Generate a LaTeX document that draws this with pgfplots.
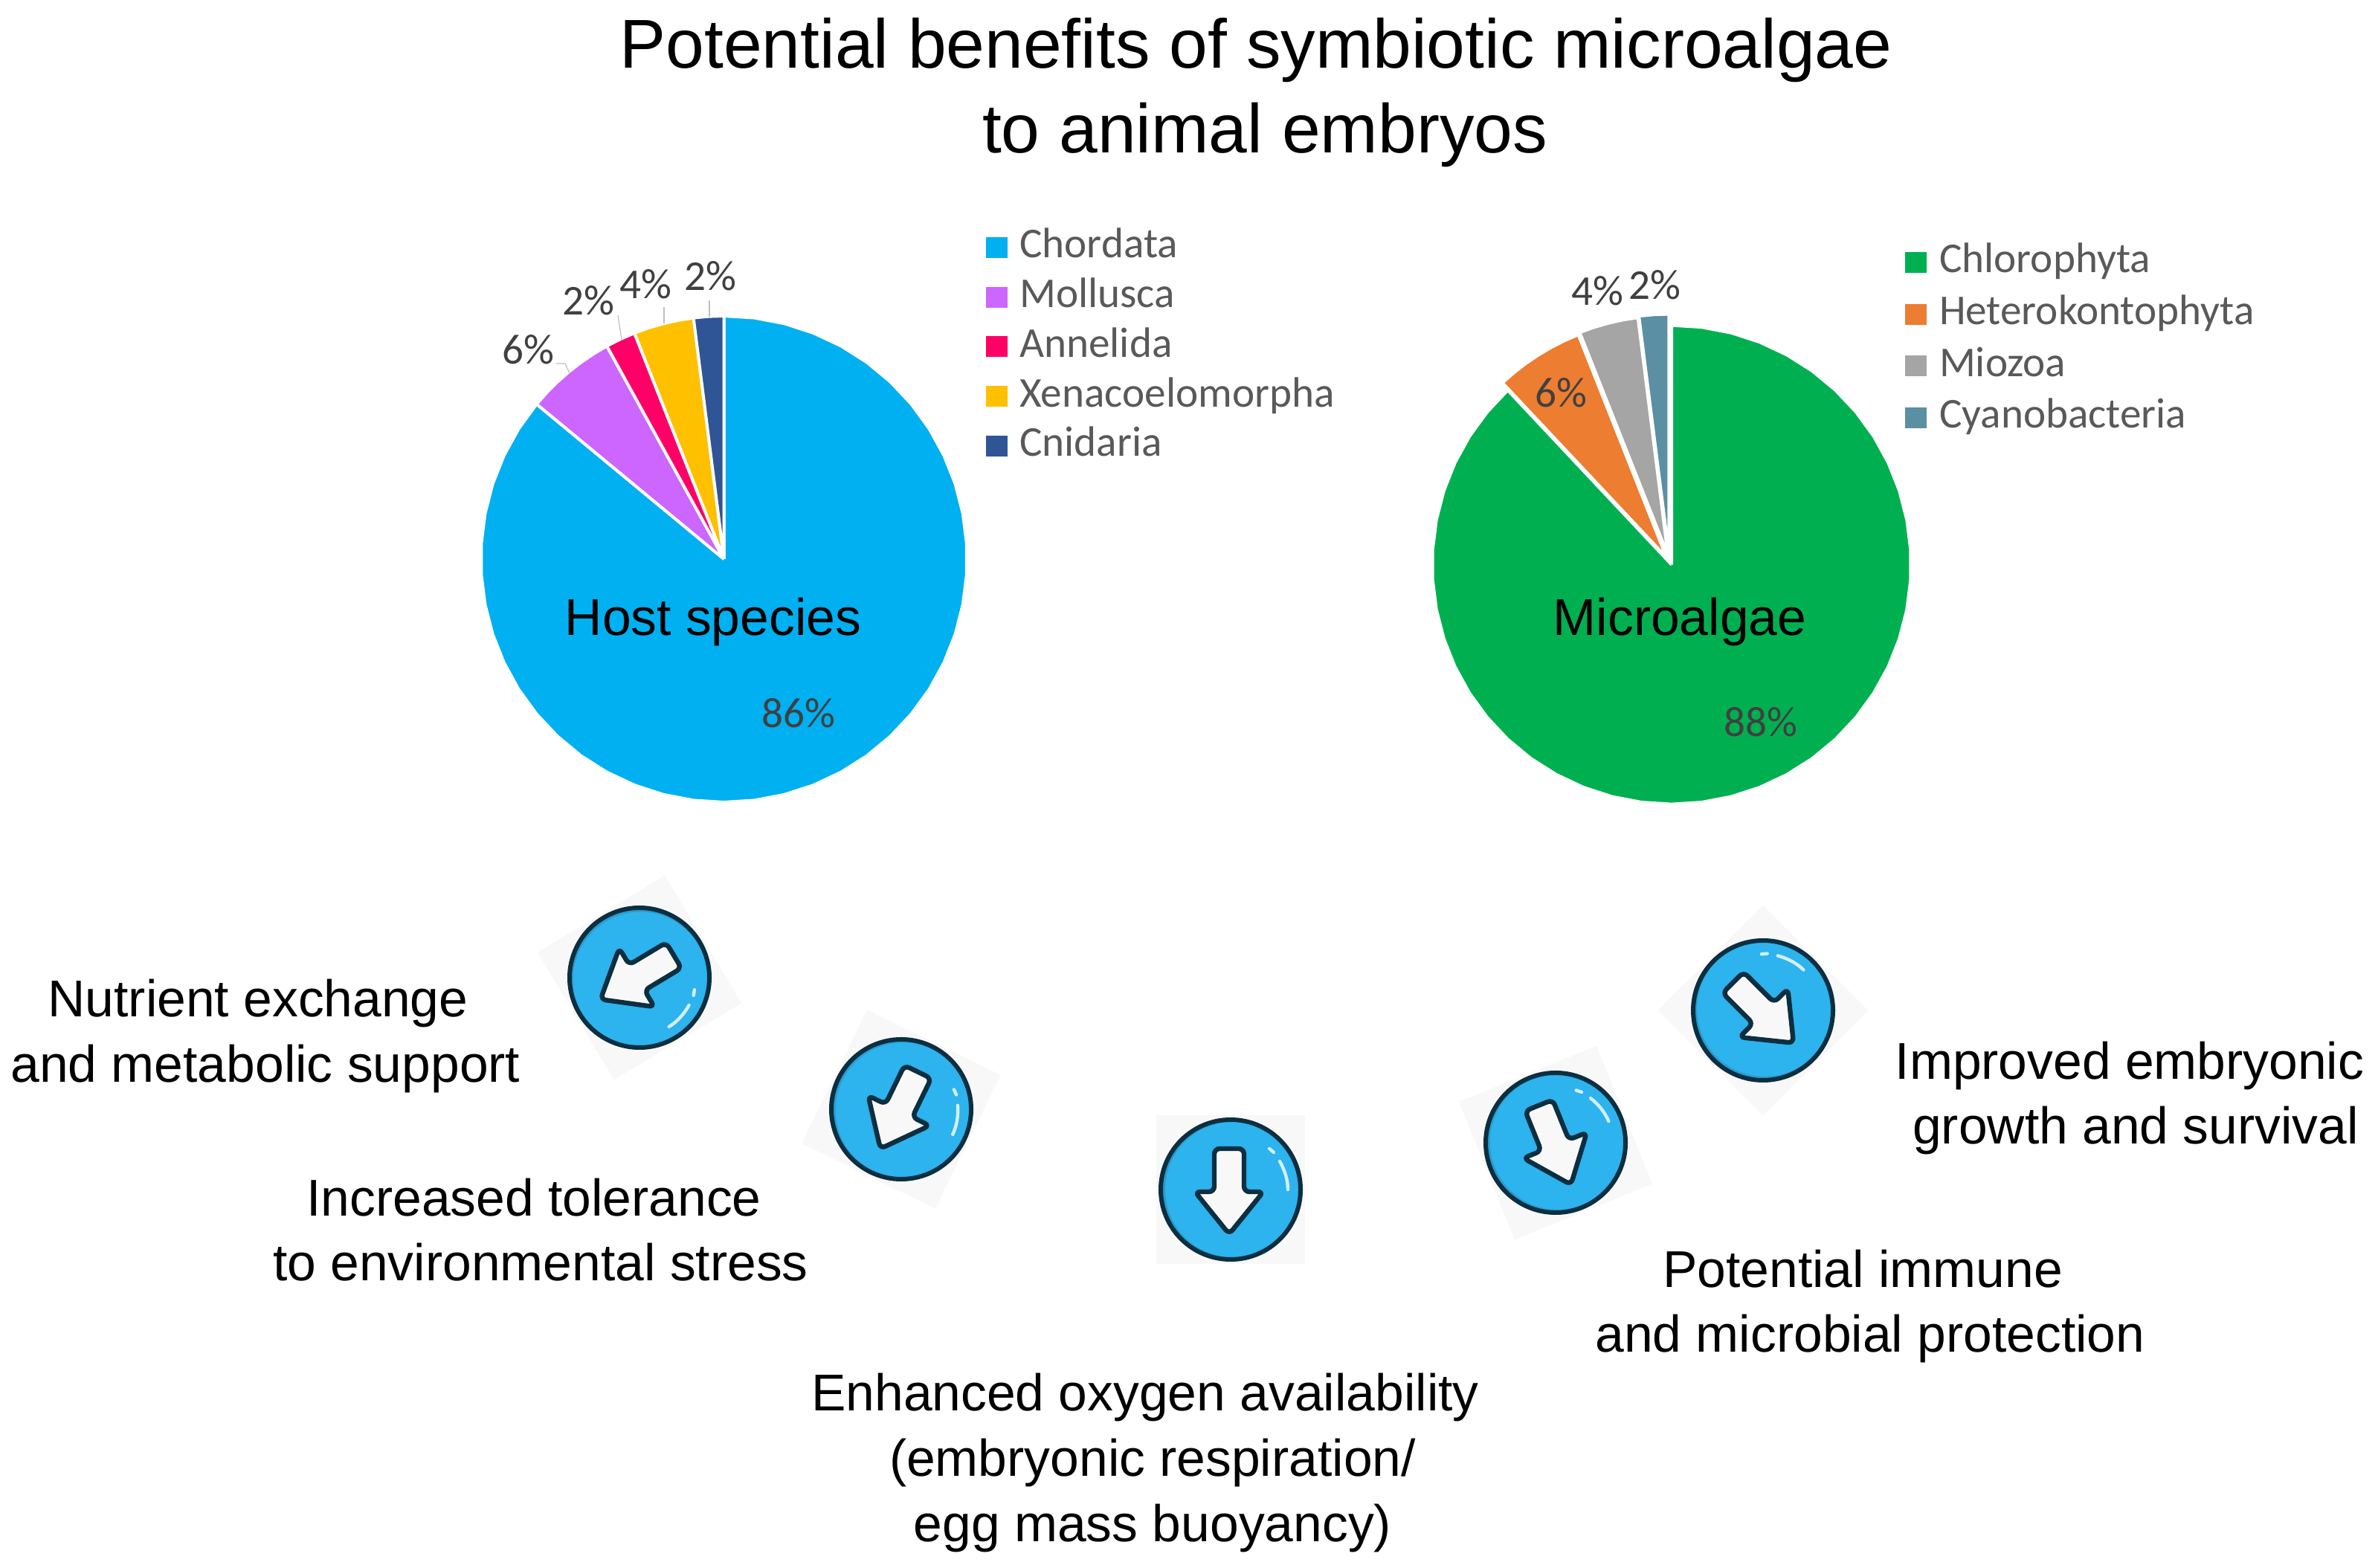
\documentclass[border=0pt]{standalone}
\usepackage{fontspec}
\usepackage{pgfplots}
\usepackage{pgfplotstable}
\pgfplotsset{compat=1.18}
\usepgfplotslibrary{polar}
\setmainfont{Liberation Sans}
\newfontfamily\carlito{Carlito}

% slices: p = cumulative percent clockwise from 12 o'clock, r = radius
\pgfplotstableread[row sep=\\]{p r\\0 0\\0 1\\2 1\\4 1\\6 1\\8 1\\10 1\\12 1\\14 1\\16 1\\18 1\\20 1\\22 1\\24 1\\26 1\\28 1\\30 1\\32 1\\34 1\\36 1\\38 1\\40 1\\42 1\\44 1\\46 1\\48 1\\50 1\\52 1\\54 1\\56 1\\58 1\\60 1\\62 1\\64 1\\66 1\\68 1\\70 1\\72 1\\74 1\\76 1\\78 1\\80 1\\82 1\\84 1\\86 1\\86 0\\}\chordata
\pgfplotstableread[row sep=\\]{p r\\86 0\\86 1\\87 1\\88 1\\89 1\\90 1\\91 1\\92 1\\92 0\\}\mollusca
\pgfplotstableread[row sep=\\]{p r\\92 0\\92 1\\93 1\\94 1\\94 0\\}\annelida
\pgfplotstableread[row sep=\\]{p r\\94 0\\94 1\\95 1\\96 1\\97 1\\98 1\\98 0\\}\xenaco
\pgfplotstableread[row sep=\\]{p r\\98 0\\98 1\\99 1\\100 1\\100 0\\}\cnidaria

\pgfplotstableread[row sep=\\]{p r\\0 0\\0 1\\2 1\\4 1\\6 1\\8 1\\10 1\\12 1\\14 1\\16 1\\18 1\\20 1\\22 1\\24 1\\26 1\\28 1\\30 1\\32 1\\34 1\\36 1\\38 1\\40 1\\42 1\\44 1\\46 1\\48 1\\50 1\\52 1\\54 1\\56 1\\58 1\\60 1\\62 1\\64 1\\66 1\\68 1\\70 1\\72 1\\74 1\\76 1\\78 1\\80 1\\82 1\\84 1\\86 1\\88 1\\88 0\\}\chloro
\pgfplotstableread[row sep=\\]{p r\\88 0\\88 1\\89 1\\90 1\\91 1\\92 1\\93 1\\94 1\\94 0\\}\hetero
\pgfplotstableread[row sep=\\]{p r\\94 0\\94 1\\95 1\\96 1\\97 1\\98 1\\98 0\\}\miozoa
\pgfplotstableread[row sep=\\]{p r\\98 0\\98 1\\99 1\\100 1\\100 0\\}\cyano

\definecolor{cChor}{HTML}{00B0F0}
\definecolor{cMoll}{HTML}{CC66FF}
\definecolor{cAnne}{HTML}{FF0066}
\definecolor{cXena}{HTML}{FFC000}
\definecolor{cCnid}{HTML}{2F5597}
\definecolor{cChlo}{HTML}{00B050}
\definecolor{cHete}{HTML}{ED7D31}
\definecolor{cMioz}{HTML}{A5A5A5}
\definecolor{cCyan}{HTML}{5B8FA3}
\definecolor{iconBg}{HTML}{F8F8F8}
\definecolor{iconDark}{HTML}{0B2F40}
\definecolor{iconShade}{HTML}{2A9CCB}
\definecolor{iconBlue}{HTML}{2DB3EE}
\definecolor{iconLite}{HTML}{D4EEF9}

\pgfplotsset{
  pie/.style={
    hide axis, clip=false, scale only axis,
    xmin=0, xmax=360, ymin=0, ymax=1,
    legend cell align=left,
    legend image code/.code={
      \path[##1,draw=none] (0pt,-3.5pt) rectangle (7.25pt,3.5pt);
      \path (11.2pt,0pt);
    },
  },
}
\newcommand\slice[3][]{\addplot[forget plot,fill=#2,draw=white,line width=1pt,line join=round,#1]
  table[x expr=90-3.6*\thisrow{p},y=r]{#3};}

% one arrow button, centre in reference pixels, rotation in degrees
\newcommand\icon[3]{
  \begin{scope}[shift={(#1,#2)},rotate=#3]
    \fill[iconBg] (-100,-100) rectangle (100,100);
    \fill[iconShade] (0,0) circle [radius=94];
    \fill[iconBlue] (3,0) circle [radius=91];
    \draw[iconDark,line width=1.5pt] (0,0) circle [radius=94];
    \draw[iconDark,line width=1.6pt,fill=iconBg,rounded corners=1.8pt]
      (-22,-55) -- (18,-55) -- (18,3) -- (44,3) -- (-2,60) -- (-48,3) -- (-22,3) -- cycle;
    \draw[iconLite,line width=1.1pt,line cap=round] (66,-38) .. controls (73,-26) and (77,-12) .. (77,0);
    \draw[iconLite,line width=1.1pt,line cap=round] (52,-55) -- (58,-50);
  \end{scope}
}
\newcommand\fsz[1]{\fontsize{#1}{#1}\selectfont}

\begin{document}
\begin{tikzpicture}
\path[use as bounding box] (0pt,0pt) rectangle (799.5pt,527pt);

\begin{polaraxis}[pie, at={(243.4pt,339pt)}, anchor=center, width=163.5pt, height=163.5pt,
    legend style={at={(axis description cs:1.037,1.182)}, anchor=north west, draw=none, fill=none,
      inner sep=0pt, row sep=3.7pt, font=\carlito\fsz{14.3}\color[HTML]{595959},
      nodes={inner sep=0pt, text height=10pt, text depth=3pt}}]
  \slice{cChor}{\chordata}
  \slice{cMoll}{\mollusca}
  \slice{cAnne}{\annelida}
  \slice{cXena}{\xenaco}
  \slice{cCnid}{\cnidaria}
  \addlegendimage{fill=cChor}\addlegendentry{Chordata}
  \addlegendimage{fill=cMoll}\addlegendentry{Mollusca}
  \addlegendimage{fill=cAnne}\addlegendentry{Annelida}
  \addlegendimage{fill=cXena}\addlegendentry{Xenacoelomorpha}
  \addlegendimage{fill=cCnid}\addlegendentry{Cnidaria}
\end{polaraxis}

\begin{polaraxis}[pie, at={(562pt,337.1pt)}, anchor=center, width=161pt, height=161pt,
    legend style={at={(axis description cs:0.987,1.173)}, anchor=north west, draw=none, fill=none,
      inner sep=0pt, row sep=4.4pt, font=\carlito\fsz{14.3}\color[HTML]{595959},
      nodes={inner sep=0pt, text height=10pt, text depth=3pt}}]
  \slice{cChlo}{\chloro}
  \slice[xshift=-1.75pt,yshift=2.5pt]{cHete}{\hetero}
  \slice[xshift=-1.25pt,yshift=3.25pt]{cMioz}{\miozoa}
  \slice[xshift=-0.9pt,yshift=3.75pt]{cCyan}{\cyano}
  \addlegendimage{fill=cChlo}\addlegendentry{Chlorophyta}
  \addlegendimage{fill=cHete}\addlegendentry{Heterokontophyta}
  \addlegendimage{fill=cMioz}\addlegendentry{Miozoa}
  \addlegendimage{fill=cCyan}\addlegendentry{Cyanobacteria}
\end{polaraxis}

% everything below in reference pixels
\begin{scope}[yshift=527pt,x=0.25pt,y=-0.25pt]
  \icon{860}{1315}{-59}
  \icon{1212}{1492}{-26}
  \icon{1655}{1600}{0}
  \icon{2092}{1537}{22}
  \icon{2371}{1359}{45}

  \draw[gray!50,line width=0.3pt] (748,489) -- (760,489) -- (766,502);
  \draw[gray!50,line width=0.3pt] (831,424) -- (836,457);
  \draw[gray!50,line width=0.3pt] (893,413) -- (893,435);
  \draw[gray!50,line width=0.3pt] (954,404) -- (954,426);

  \begin{scope}[every node/.style={font=\carlito\fsz{14.3}\color[HTML]{404040},inner sep=0pt}]
    \node at (1074,959) {86\%};
    \node at (710,470) {6\%};
    \node at (791,404) {2\%};
    \node at (868,382) {4\%};
    \node at (955,371) {2\%};
    \node at (2368,971) {88\%};
    \node at (2099,528) {6\%};
    \node at (2148,391) {4\%};
    \node at (2225,383) {2\%};
  \end{scope}

  \begin{scope}[every node/.style={font=\fsz{17.4},inner sep=0pt}]
    \node at (959,837) {Host species};
    \node at (2259,837) {Microalgae};
    \node at (347,1350) {Nutrient exchange};
    \node at (357,1438) {and metabolic support};
    \node at (718,1611) {Increased tolerance};
    \node at (727,1698) {to environmental stress};
    \node at (1540,1880) {Enhanced oxygen availability};
    \node at (1550,1968) {(embryonic respiration/};
    \node at (1550,2056) {egg mass buoyancy)};
    \node at (2505,1707) {Potential immune};
    \node at (2515,1801) {and microbial protection};
    \node at (2864,1434) {Improved embryonic};
    \node at (2872,1521) {growth and survival};
  \end{scope}
  \node[font=\fsz{23.25},inner sep=0pt] at (1689,67) {Potential benefits of symbiotic microalgae};
  \node[font=\fsz{23.25},inner sep=0pt] at (1701,181) {to animal embryos};
\end{scope}
\end{tikzpicture}
\end{document}
